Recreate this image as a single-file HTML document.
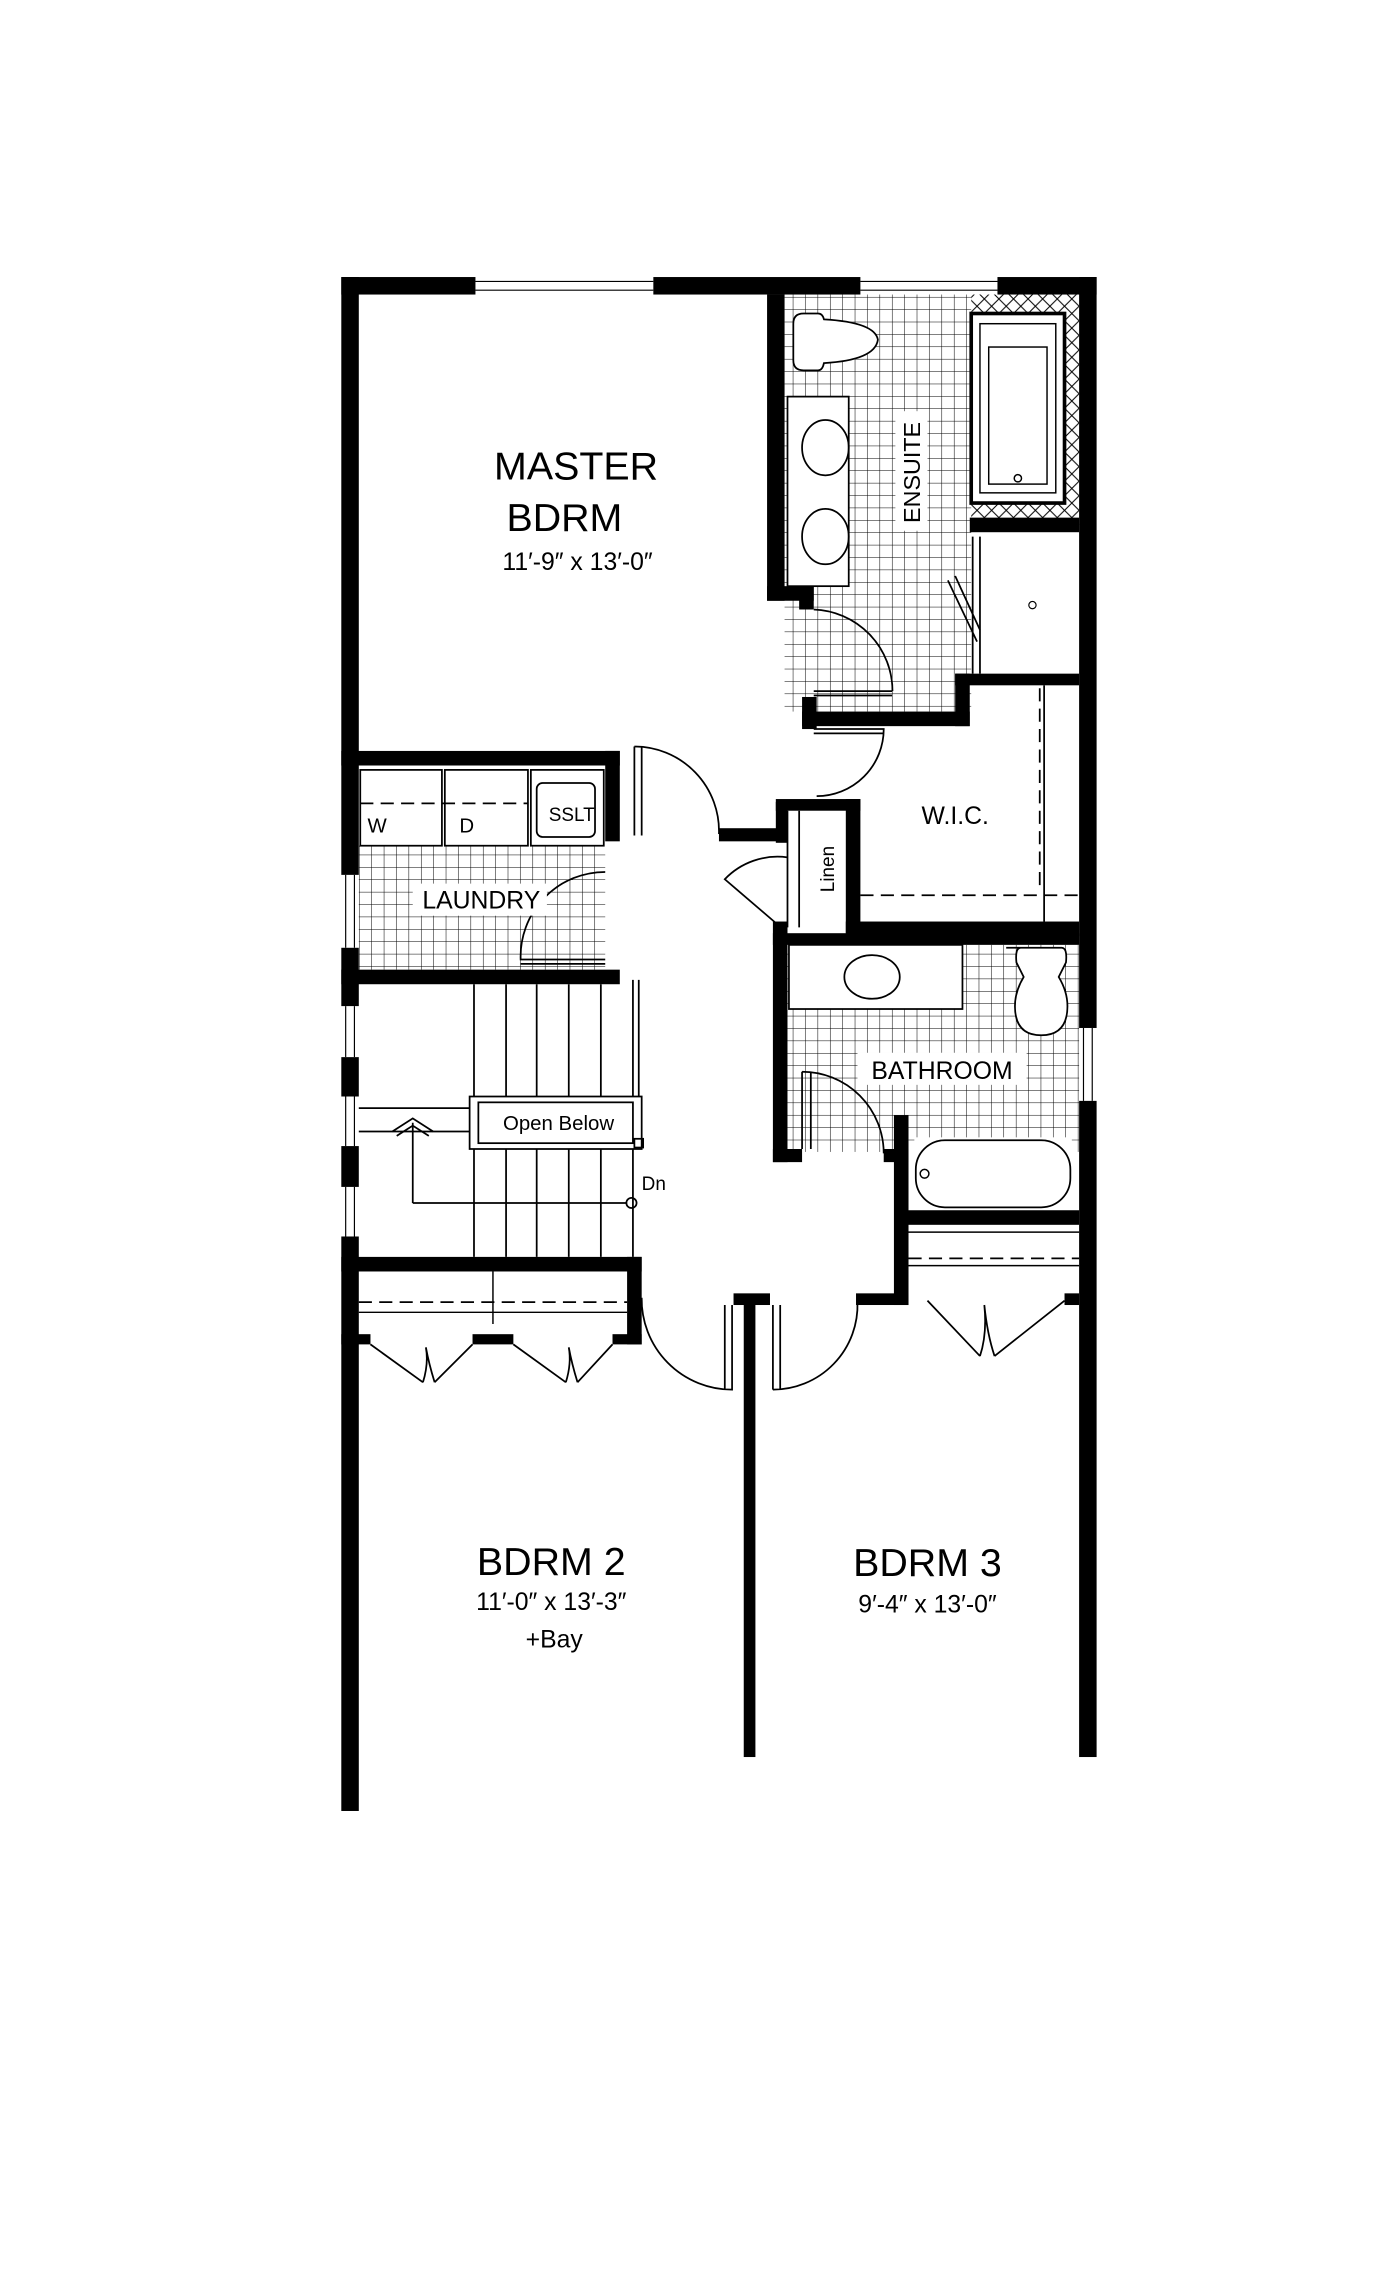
<!DOCTYPE html>
<html><head><meta charset="utf-8"><style>
html,body{margin:0;padding:0;background:#fff;width:1400px;height:2277px;overflow:hidden}
svg{display:block}
text{font-family:"Liberation Sans","DejaVu Sans",sans-serif;fill:#000}
</style></head><body>
<svg width="1400" height="2277" viewBox="0 0 960 1561.6" xmlns="http://www.w3.org/2000/svg">
<defs>
<pattern id="tile" width="8.5" height="8.5" patternUnits="userSpaceOnUse">
<path d="M8.5 0V8.5M0 8.5H8.5" stroke="#000" stroke-width="0.7" fill="none"/></pattern>
<pattern id="hatch" width="10" height="10" patternUnits="userSpaceOnUse">
<path d="M0 0L10 10M10 0L0 10" stroke="#000" stroke-width="0.7"/></pattern>
</defs>
<rect width="960" height="1562" fill="#fff"/>
<rect x="538" y="202" width="128" height="286" fill="url(#tile)"/>
<rect x="666" y="202" width="74" height="158" fill="url(#hatch)"/>
<rect x="246" y="580" width="169" height="85" fill="url(#tile)"/>
<rect x="540" y="648" width="200" height="142" fill="url(#tile)"/>
<rect x="666" y="215" width="64" height="130" fill="#fff" stroke="#000" stroke-width="2.5"/>
<rect x="672" y="222" width="52" height="116" fill="#fff" stroke="#000" stroke-width="1"/>
<rect x="678" y="238" width="40" height="94" fill="none" stroke="#000" stroke-width="1"/>
<circle cx="698" cy="328" r="2.5" fill="none" stroke="#000"/>
<rect x="670" y="365" width="70" height="97" fill="#fff"/>
<circle cx="708" cy="415" r="2.5" fill="none" stroke="#000" stroke-width="0.8"/>
<path d="M544 222 q0-7 7-7 h10 q3 0 4 4 q35 2 37 14 q-2 14-37 16 q-1 5-4 5 h-10 q-7 0-7-7z" fill="#fff" stroke="#000" stroke-width="1.2"/>
<rect x="540" y="272" width="42" height="130" fill="#fff" stroke="#000" stroke-width="1.2"/>
<ellipse cx="566" cy="307" rx="16" ry="19" fill="none" stroke="#000" stroke-width="1.2"/>
<ellipse cx="566" cy="368" rx="16" ry="19" fill="none" stroke="#000" stroke-width="1.2"/>
<rect x="541" y="648" width="119" height="44" fill="#fff" stroke="#000" stroke-width="1.2"/>
<ellipse cx="598" cy="670" rx="19" ry="15" fill="none" stroke="#000" stroke-width="1.2"/>
<path d="M690 650 h38 q4 0 3 10 l-5 10 q6 10 6 20 q0 20 -18 20 q-18 0 -18-20 q0-10 6-20 l-5-10 q-1-10 3-10z" fill="#fff" stroke="#000" stroke-width="1.2"/>
<rect x="627" y="780" width="108" height="50" fill="#fff"/>
<rect x="628" y="782" width="106" height="46" rx="20" fill="none" stroke="#000" stroke-width="1.2"/>
<circle cx="634" cy="805" r="3" fill="none" stroke="#000"/>
<rect x="247" y="528" width="56" height="52" fill="#fff" stroke="#000" stroke-width="1.2"/>
<rect x="305" y="528" width="57" height="52" fill="#fff" stroke="#000" stroke-width="1.2"/>
<rect x="364" y="528" width="50" height="52" fill="#fff" stroke="#000" stroke-width="1.2"/>
<rect x="368" y="537" width="40" height="37" rx="4" fill="none" stroke="#000" stroke-width="1.2"/>
<path d="M247 551H362" stroke="#000" stroke-dasharray="9 5" stroke-width="1.2"/>
<g fill="#000">
<rect x="234" y="190" width="92" height="12"/>
<rect x="448" y="190" width="142" height="12"/>
<rect x="684" y="190" width="68" height="12"/>
<rect x="234" y="190" width="12" height="410"/>
<rect x="234" y="650" width="12" height="40"/>
<rect x="234" y="725" width="12" height="27"/>
<rect x="234" y="786" width="12" height="28"/>
<rect x="234" y="848" width="12" height="394"/>
<rect x="740" y="190" width="12" height="515"/>
<rect x="740" y="755" width="12" height="450"/>
<rect x="510" y="888" width="8" height="317"/>
<rect x="526" y="202" width="12" height="210"/>
<rect x="526" y="402" width="32" height="10"/>
<rect x="548" y="402" width="10" height="16"/>
<rect x="550" y="478" width="10" height="22"/>
<rect x="550" y="488" width="115" height="10"/>
<rect x="655" y="462" width="10" height="36"/>
<rect x="655" y="462" width="85" height="8"/>
<rect x="665" y="355" width="75" height="10"/>
<rect x="234" y="515" width="191" height="10"/>
<rect x="415" y="515" width="10" height="62"/>
<rect x="234" y="665" width="191" height="10"/>
<rect x="493" y="568" width="40" height="9"/>
<rect x="532" y="550" width="8" height="28"/>
<rect x="532" y="548" width="58" height="8"/>
<rect x="580" y="548" width="10" height="92"/>
<rect x="580" y="632" width="160" height="10"/>
<rect x="530" y="632" width="10" height="165"/>
<rect x="530" y="640" width="210" height="8"/>
<rect x="530" y="788" width="20" height="9"/>
<rect x="606" y="788" width="17" height="9"/>
<rect x="613" y="765" width="10" height="130"/>
<rect x="620" y="830" width="120" height="10"/>
<rect x="234" y="862" width="206" height="10"/>
<rect x="430" y="862" width="10" height="60"/>
<rect x="234" y="915" width="20" height="7"/>
<rect x="324" y="915" width="28" height="7"/>
<rect x="420" y="915" width="20" height="7"/>
<rect x="503" y="887" width="25" height="8"/>
<rect x="587" y="887" width="36" height="8"/>
<rect x="730" y="887" width="10" height="8"/>
</g>
<g stroke="#000" stroke-width="0.8" fill="none">
<path d="M326 193H448M326 199H448M590 193H684M590 199H684"/>
<path d="M237 600V650M243 600V650M237 690V725M243 690V725M237 752V786M243 752V786M237 814V848M243 814V848"/>
<path d="M743 705V755M749 705V755"/>
</g>
<g stroke="#000" stroke-width="1.2" fill="none">
<path d="M558 418 A56 56 0 0 1 612 474"/><path d="M558 474H612M558 477H612"/>
<path d="M558 500H606 A46 46 0 0 1 560 546"/><path d="M558 503H606"/>
<path d="M435 512V573M440 512V573"/><path d="M435 512 A58 58 0 0 1 493 572"/>
<path d="M540 588 A50 50 0 0 0 497 603 L532 633"/>
<path d="M415 598 A58 58 0 0 0 357 658 H415"/><path d="M357 661H415"/>
<path d="M550 735V788M556 735V788"/><path d="M550 735 A56 56 0 0 1 606 791"/>
<path d="M667 368V462M672 368V462"/><path d="M650 398 L670 440 M655 395 L672 432"/>
<path d="M440 890 A62 62 0 0 0 502 953 V895 M497 895V953"/>
<path d="M530 953 A58 58 0 0 0 588 893 M530 895V953 M535 895V953"/>
<path d="M716 470V632"/>
<path d="M540 556V636M548 556V636"/>
</g>
<g stroke="#000" stroke-width="1.2" fill="none" stroke-dasharray="9 5">
<path d="M713 472V612M590 614H740M246 893H430M623 863H740"/>
</g>
<path d="M246 900H430M623 868H740M338 872V908M623 845H740" stroke="#000" stroke-width="1" fill="none"/>
<g stroke="#000" stroke-width="1.2" fill="none">
<path d="M254 922 L290 948 M290 948 Q294 935 292 924 M292 924 Q294 935 298 948 M298 948 L324 922"/>
<path d="M352 922 L388 948 M388 948 Q392 935 390 924 M390 924 Q392 935 396 948 M396 948 L420 922"/>
<path d="M636 892 L672 930 M672 930 Q677 915 675 895 M675 895 Q677 915 682 930 M682 930 L730 892"/>
</g>
<g stroke="#000" stroke-width="1.2" fill="none">
<path d="M325 675V862M347 675V862M368 675V862M390 675V862M412 675V862"/>
<path d="M434 672V862M438 672V785"/>
<rect x="322" y="752" width="118" height="36" fill="#fff"/>
<rect x="328" y="756" width="106" height="28"/>
<path d="M246 760H322M246 776H322"/>
<path d="M283 825V770 M269 776 L283 767 L297 776 M272 779 L283 772 L294 779"/>
<path d="M283 825H430"/>
<circle cx="433" cy="825" r="3.5"/>
<rect x="435" y="781" width="6" height="6"/>
</g>
<text x="395" y="329" font-size="27" text-anchor="middle">MASTER</text>
<text x="387" y="364" font-size="27" text-anchor="middle">BDRM</text>
<text x="396" y="391" font-size="17" text-anchor="middle">11′-9″ x 13′-0″</text>
<rect x="283" y="606" width="92" height="22" fill="#fff"/>
<text x="330" y="623" font-size="17" text-anchor="middle">LAUNDRY</text>
<text x="655" y="565" font-size="17" text-anchor="middle">W.I.C.</text>
<rect x="614" y="282" width="22" height="82" fill="#fff"/>
<text transform="translate(631 324) rotate(-90)" font-size="16" text-anchor="middle">ENSUITE</text>
<text transform="translate(572 596) rotate(-90)" font-size="13" text-anchor="middle">Linen</text>
<rect x="588" y="722" width="116" height="22" fill="#fff"/>
<text x="646" y="740" font-size="17" text-anchor="middle">BATHROOM</text>
<text x="252" y="571" font-size="14">W</text>
<text x="315" y="571" font-size="14">D</text>
<text x="392" y="563" font-size="13" text-anchor="middle">SSLT</text>
<text x="383" y="775" font-size="14" text-anchor="middle">Open Below</text>
<text x="440" y="816" font-size="13">Dn</text>
<text x="378" y="1080" font-size="27" text-anchor="middle">BDRM 2</text>
<text x="378" y="1104" font-size="17" text-anchor="middle">11′-0″ x 13′-3″</text>
<text x="380" y="1130" font-size="17" text-anchor="middle">+Bay</text>
<text x="636" y="1081" font-size="27" text-anchor="middle">BDRM 3</text>
<text x="636" y="1106" font-size="17" text-anchor="middle">9′-4″ x 13′-0″</text>
</svg>
</body></html>
